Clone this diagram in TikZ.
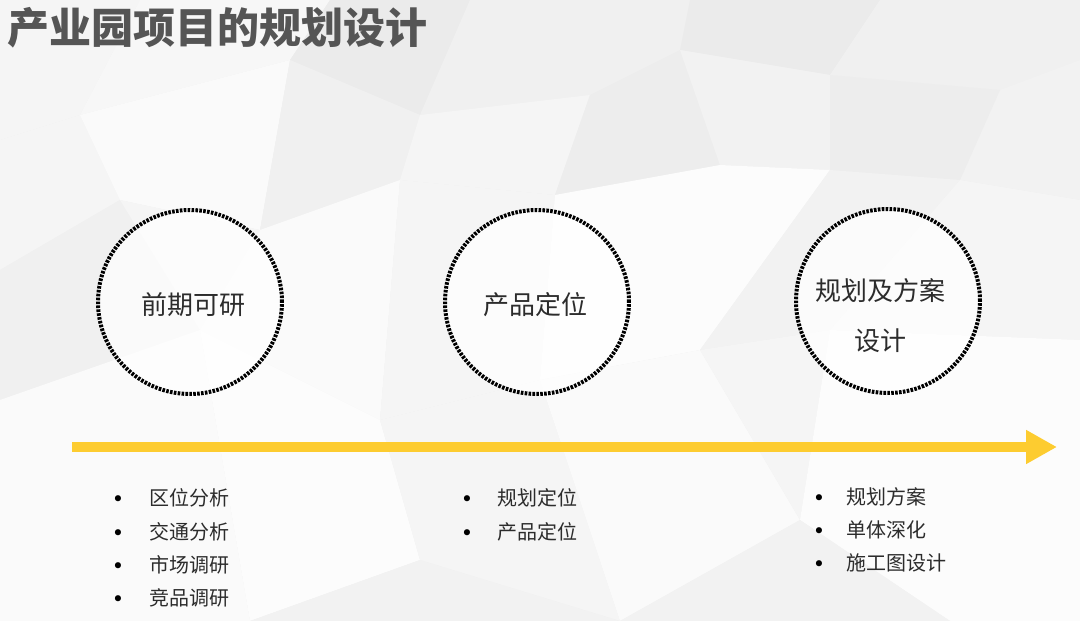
\documentclass[tikz,border=0pt]{standalone}
\usepackage{fontspec}
\setmainfont{Noto Sans CJK SC}
\newfontfamily\symfont{DejaVu Sans}
\usetikzlibrary{arrows.meta}
\definecolor{bgbase}{HTML}{F0F0F0}
\definecolor{titlegray}{HTML}{555555}
\definecolor{textgray}{HTML}{2C2C2C}
\definecolor{arrowyellow}{HTML}{FDCC30}
\tikzset{
  poly/.style={draw=none},
  stage/.style={circle, minimum size=184pt, inner sep=0pt, fill=white, fill opacity=0.7,
                draw=black, draw opacity=1, line width=4pt, dash pattern=on 2.6pt off 1.3pt},
  stagetext/.style={font=\fontsize{26}{50}\selectfont, text=textgray, align=center, inner sep=0pt},
  itemtext/.style={font=\fontsize{20}{24}\selectfont, text=textgray, anchor=west, inner sep=0pt},
  bulletmark/.style={font=\symfont\fontsize{21}{22}\selectfont, text=black, inner sep=0pt, yshift=-3pt},
  timeline/.style={draw=arrowyellow, line width=10pt, -{Triangle[length=31pt,width=32pt,fill=arrowyellow]}}
}
\begin{document}
\begin{tikzpicture}[x=1pt,y=-1pt]
\useasboundingbox (0,0) rectangle (1080,621);
% background low-poly
\fill[bgbase] (0,0) rectangle (1080,621);
\fill[poly, fill=black!4] (0,0) -- (140,0) -- (80,115) -- (0,140) -- cycle;
\fill[poly, fill=black!3] (140,0) -- (330,0) -- (290,60) -- (80,115) -- cycle;
\fill[poly, fill=black!8] (330,0) -- (470,0) -- (420,115) -- (290,60) -- cycle;
\fill[poly, fill=black!6] (470,0) -- (690,0) -- (680,50) -- (590,95) -- (420,115) -- cycle;
\fill[poly, fill=black!8] (690,0) -- (880,0) -- (830,75) -- (680,50) -- cycle;
\fill[poly, fill=black!6] (880,0) -- (1080,0) -- (1080,60) -- (1000,90) -- (830,75) -- cycle;
\fill[poly, fill=black!5] (1000,90) -- (1080,60) -- (1080,200) -- (960,180) -- cycle;
\fill[poly, fill=black!4] (0,140) -- (80,115) -- (120,200) -- (0,270) -- cycle;
\fill[poly, fill=black!2] (80,115) -- (290,60) -- (260,230) -- (120,200) -- cycle;
\fill[poly, fill=black!6] (290,60) -- (420,115) -- (400,180) -- (260,230) -- cycle;
\fill[poly, fill=black!4] (420,115) -- (590,95) -- (555,195) -- (400,180) -- cycle;
\fill[poly, fill=black!7] (590,95) -- (680,50) -- (720,165) -- (555,195) -- cycle;
\fill[poly, fill=black!5] (680,50) -- (830,75) -- (830,170) -- (720,165) -- cycle;
\fill[poly, fill=black!7] (830,75) -- (1000,90) -- (960,180) -- (830,170) -- cycle;
\fill[poly, fill=black!6] (0,270) -- (120,200) -- (200,330) -- (0,400) -- cycle;
\fill[poly, fill=black!4] (120,200) -- (260,230) -- (200,330) -- cycle;
\fill[poly, fill=black!2] (260,230) -- (400,180) -- (380,420) -- (200,330) -- cycle;
\fill[poly, fill=black!4] (400,180) -- (555,195) -- (540,380) -- (380,420) -- cycle;
\fill[poly, fill=black!1] (555,195) -- (720,165) -- (830,170) -- (700,350) -- (540,380) -- cycle;
\fill[poly, fill=black!5] (830,170) -- (960,180) -- (830,330) -- (700,350) -- cycle;
\fill[poly, fill=black!4] (960,180) -- (1080,200) -- (1080,340) -- (830,330) -- cycle;
\fill[poly, fill=black!2] (0,400) -- (200,330) -- (250,621) -- (0,621) -- cycle;
\fill[poly, fill=black!1] (200,330) -- (380,420) -- (420,560) -- (250,621) -- cycle;
\fill[poly, fill=black!4] (380,420) -- (540,380) -- (620,621) -- (420,560) -- cycle;
\fill[poly, fill=black!2] (540,380) -- (700,350) -- (800,520) -- (620,621) -- cycle;
\fill[poly, fill=black!4] (700,350) -- (830,330) -- (800,520) -- cycle;
\fill[poly, fill=black!1] (830,330) -- (1080,340) -- (1080,621) -- (950,621) -- (800,520) -- cycle;
\fill[poly, fill=black!5] (800,520) -- (950,621) -- (620,621) -- cycle;
\fill[poly, fill=black!5] (420,560) -- (620,621) -- (250,621) -- cycle;

% title
\node[anchor=west, inner sep=0pt, text=titlegray, font=\fontsize{42}{48}\selectfont\bfseries] (title) at (7,28) {产业园项目的规划设计};

% stage circles
\node[stage] (c1) at (190,302) {};
\node[stage] (c2) at (537,302) {};
\node[stage] (c3) at (888,301) {};
\node[stagetext] (t1) at (193,305) {前期可研};
\node[stagetext] (t2) at (535,305) {产品定位};
\node[stagetext] (t3) at (880,316) {规划及方案\\设计};

% timeline arrow
\coordinate (arrowstart) at (72,447);
\coordinate (arrowend) at (1057,447);
\draw[timeline] (arrowstart) -- (arrowend);

% column 1
\node[bulletmark] (b11) at (118,498) {•};
\node[bulletmark] (b12) at (118,532) {•};
\node[bulletmark] (b13) at (118,565) {•};
\node[bulletmark] (b14) at (118,598) {•};
\node[itemtext] (i11) at (149,498) {区位分析};
\node[itemtext] (i12) at (149,532) {交通分析};
\node[itemtext] (i13) at (149,565) {市场调研};
\node[itemtext] (i14) at (149,598) {竞品调研};

% column 2
\node[bulletmark] (b21) at (467,498) {•};
\node[bulletmark] (b22) at (467,532) {•};
\node[itemtext] (i21) at (497,498) {规划定位};
\node[itemtext] (i22) at (497,532) {产品定位};

% column 3
\node[bulletmark] (b31) at (819,497) {•};
\node[bulletmark] (b32) at (819,530) {•};
\node[bulletmark] (b33) at (819,563) {•};
\node[itemtext] (i31) at (846,497) {规划方案};
\node[itemtext] (i32) at (846,530) {单体深化};
\node[itemtext] (i33) at (846,563) {施工图设计};
\end{tikzpicture}
\end{document}
